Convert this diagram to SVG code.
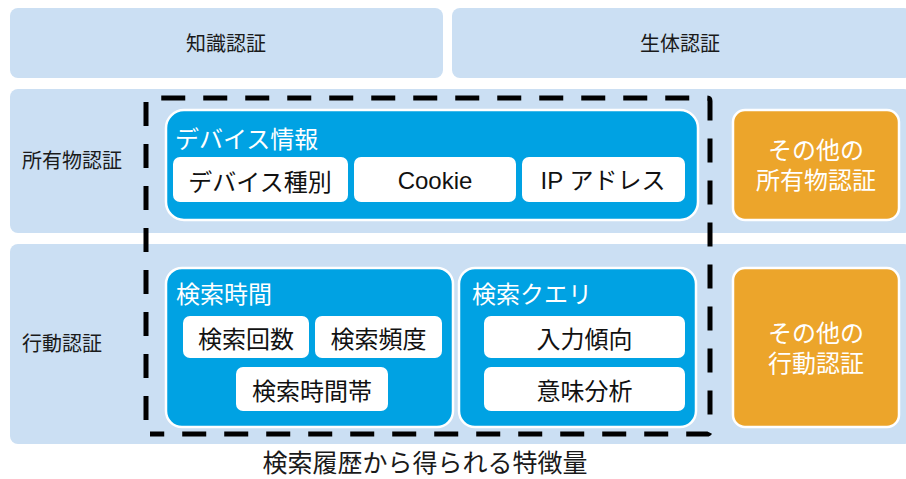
<svg xmlns="http://www.w3.org/2000/svg" width="906" height="479" viewBox="0 0 906 479">
<style>
text{font-family:"Noto Sans CJK JP","Noto Sans",sans-serif;dominant-baseline:central}
.band{fill:#cbdff3}
.lbl{font-size:20px;fill:#1a1a1a}
.grp{fill:#00a2e3;stroke:#fff;stroke-width:2.5}
.gt{font-size:24px;fill:#fff}
.item{fill:#fff}
.it{font-size:24px;fill:#111;text-anchor:middle}
.lat{font-family:"Liberation Sans","Noto Sans CJK JP",sans-serif}
.oth{fill:#eca52b;stroke:#fff;stroke-width:2.5}
.ot{font-size:24px;fill:#fff;text-anchor:middle;font-family:"Liberation Sans","Noto Sans CJK JP",sans-serif}
</style>
<rect width="906" height="479" fill="#fff"/>
<g id="knowledge"><rect class="band" x="10" y="8" width="433" height="70" rx="8"/><text class="lbl" x="226" y="42" text-anchor="middle">知識認証</text></g>
<g id="biometric"><rect class="band" x="452" y="8" width="460" height="70" rx="8"/><text class="lbl" x="680" y="42" text-anchor="middle">生体認証</text></g>
<g id="possession"><rect class="band" x="10" y="89" width="902" height="144" rx="8"/><text class="lbl" x="22" y="159">所有物認証</text></g>
<g id="behavior"><rect class="band" x="10" y="244" width="902" height="200" rx="8"/><text class="lbl" x="22" y="342">行動認証</text></g>
<g id="device-info">
<rect class="grp" x="166" y="110" width="532" height="110" rx="18"/>
<text class="gt" x="175" y="137">デバイス情報</text>
<rect class="item" x="173" y="157" width="175" height="45" rx="7"/><text class="it" x="260" y="180">デバイス種別</text>
<rect class="item" x="354" y="157" width="162" height="45" rx="7"/><text class="it lat" x="435" y="180">Cookie</text>
<rect class="item" x="522" y="157" width="163" height="45" rx="7"/><text class="it lat" x="603" y="180">IP アドレス</text>
</g>
<g id="search-time">
<rect class="grp" x="166" y="268" width="287" height="159" rx="16"/>
<text class="gt" x="176" y="292">検索時間</text>
<rect class="item" x="183" y="316" width="126" height="42" rx="7"/><text class="it" x="246" y="337">検索回数</text>
<rect class="item" x="315" y="316" width="127" height="42" rx="7"/><text class="it" x="378.5" y="337">検索頻度</text>
<rect class="item" x="236" y="367" width="152" height="44" rx="7"/><text class="it" x="312" y="389">検索時間帯</text>
</g>
<g id="search-query">
<rect class="grp" x="459" y="268" width="237" height="159" rx="16"/>
<text class="gt" x="472" y="292">検索クエリ</text>
<rect class="item" x="484" y="316" width="201" height="42" rx="7"/><text class="it" x="584.5" y="337">入力傾向</text>
<rect class="item" x="484" y="367" width="201" height="44" rx="7"/><text class="it" x="584.5" y="389">意味分析</text>
</g>
<g id="other-possession"><rect class="oth" x="733" y="110" width="166" height="110" rx="12"/><text class="ot"><tspan x="816" y="150">その他の</tspan><tspan x="816" y="180">所有物認証</tspan></text></g>
<g id="other-behavior"><rect class="oth" x="733" y="268" width="166" height="159" rx="12"/><text class="ot"><tspan x="816" y="333">その他の</tspan><tspan x="816" y="363">行動認証</tspan></text></g>
<g id="connectors">
<path d="M146 420 V101 Q146 98 149 98 H707 Q710 98 710 101 V431 Q710 434 707 434 H150" fill="none" stroke="#000" stroke-width="5" stroke-dasharray="24 18"/>
</g>
<g id="caption"><text x="425" y="461" font-size="25" fill="#1a1a1a" text-anchor="middle">検索履歴から得られる特徴量</text></g>
</svg>
